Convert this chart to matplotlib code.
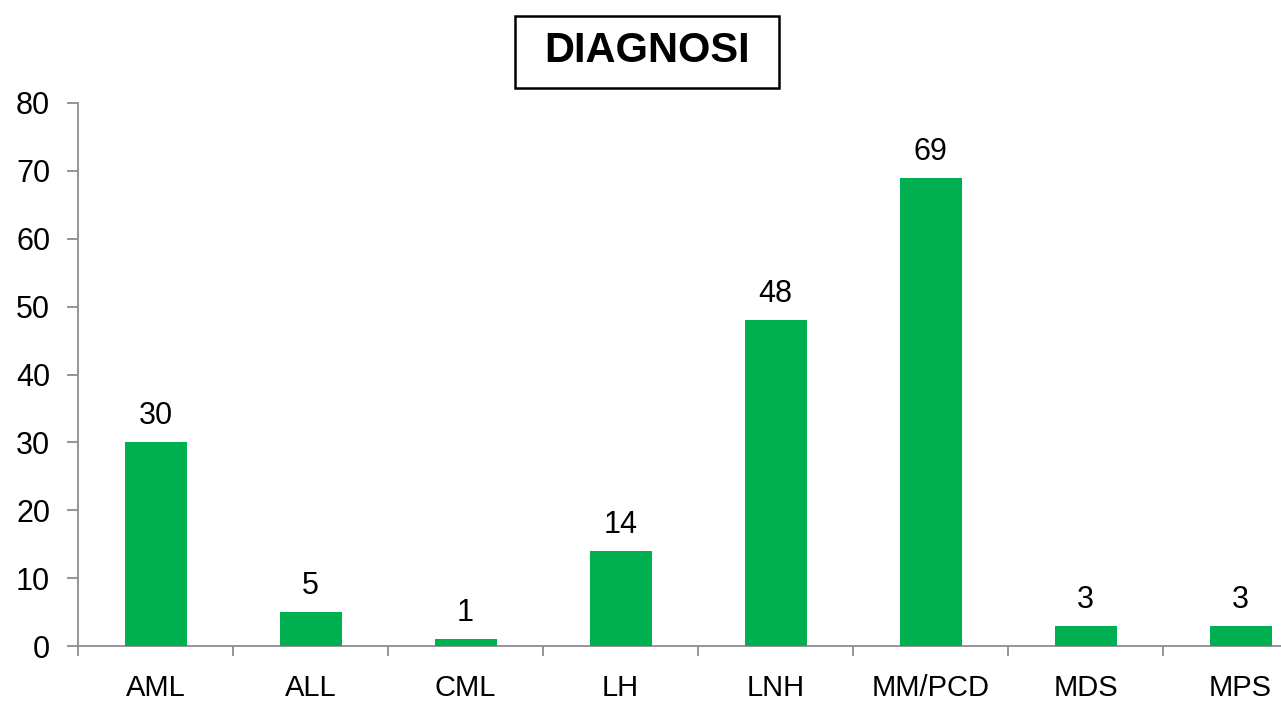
import matplotlib
matplotlib.use("Agg")
import matplotlib.pyplot as plt
from matplotlib.ticker import FixedLocator, NullFormatter
from matplotlib.patches import Rectangle

categories = ["AML", "ALL", "CML", "LH", "LNH", "MM/PCD", "MDS", "MPS"]
values = [30, 5, 1, 14, 48, 69, 3, 3]
yticks = [0, 10, 20, 30, 40, 50, 60, 70, 80]
title = "DIAGNOSI"

plt.rcParams['font.family'] = ['Liberation Sans', 'DejaVu Sans']

W, H = 1281, 704
fig = plt.figure(figsize=(W / 100, H / 100), dpi=100)
left = 78 / W
bottom = (H - 646) / H
top = (H - 103) / H
ax = fig.add_axes([left, bottom, 1 - left, top - bottom])

x = list(range(len(categories)))
bars = ax.bar(x, values, width=0.4, color="#00B050", zorder=3)

ax.set_xlim(-0.5, -0.5 + (W - 78) / 155)
ax.set_ylim(0, 80)

for s in ["top", "right"]:
    ax.spines[s].set_visible(False)
for s in ["left", "bottom"]:
    ax.spines[s].set_color("#8c8c8c")
    ax.spines[s].set_linewidth(1.3)

ax.set_yticks(yticks)
ax.set_yticklabels([str(t) for t in yticks])
ax.tick_params(axis="y", direction="out", length=8, width=1.3, color="#8c8c8c",
               labelsize=22, pad=12, labelcolor="black")

# category labels at centers (no tick marks), tick marks at boundaries
ax.set_xticks(x)
ax.set_xticklabels(categories)
ax.tick_params(axis="x", which="major", length=0, labelsize=21, pad=20, labelcolor="black")
ax.xaxis.set_minor_locator(FixedLocator([i - 0.5 for i in range(len(categories) + 1)]))
ax.xaxis.set_minor_formatter(NullFormatter())
ax.tick_params(axis="x", which="minor", direction="out", length=7, width=1.3, color="#8c8c8c")

for xi, v in zip(x, values):
    ax.annotate(str(v), (xi, v), xytext=(0, 8), textcoords="offset points",
                ha="center", va="bottom", fontsize=22, color="black")

# title box
bx0, bx1, by0, by1 = 515, 779, 16, 88
fig.patches.append(Rectangle((bx0 / W, 1 - by1 / H), (bx1 - bx0) / W, (by1 - by0) / H,
                             transform=fig.transFigure, facecolor="white",
                             edgecolor="black", linewidth=1.8, zorder=1))
fig.text(647 / W, 1 - 51 / H, title, ha="center", va="center", fontsize=30,
         fontweight="bold", color="black", zorder=2)

fig.savefig("out.png", dpi=100)
